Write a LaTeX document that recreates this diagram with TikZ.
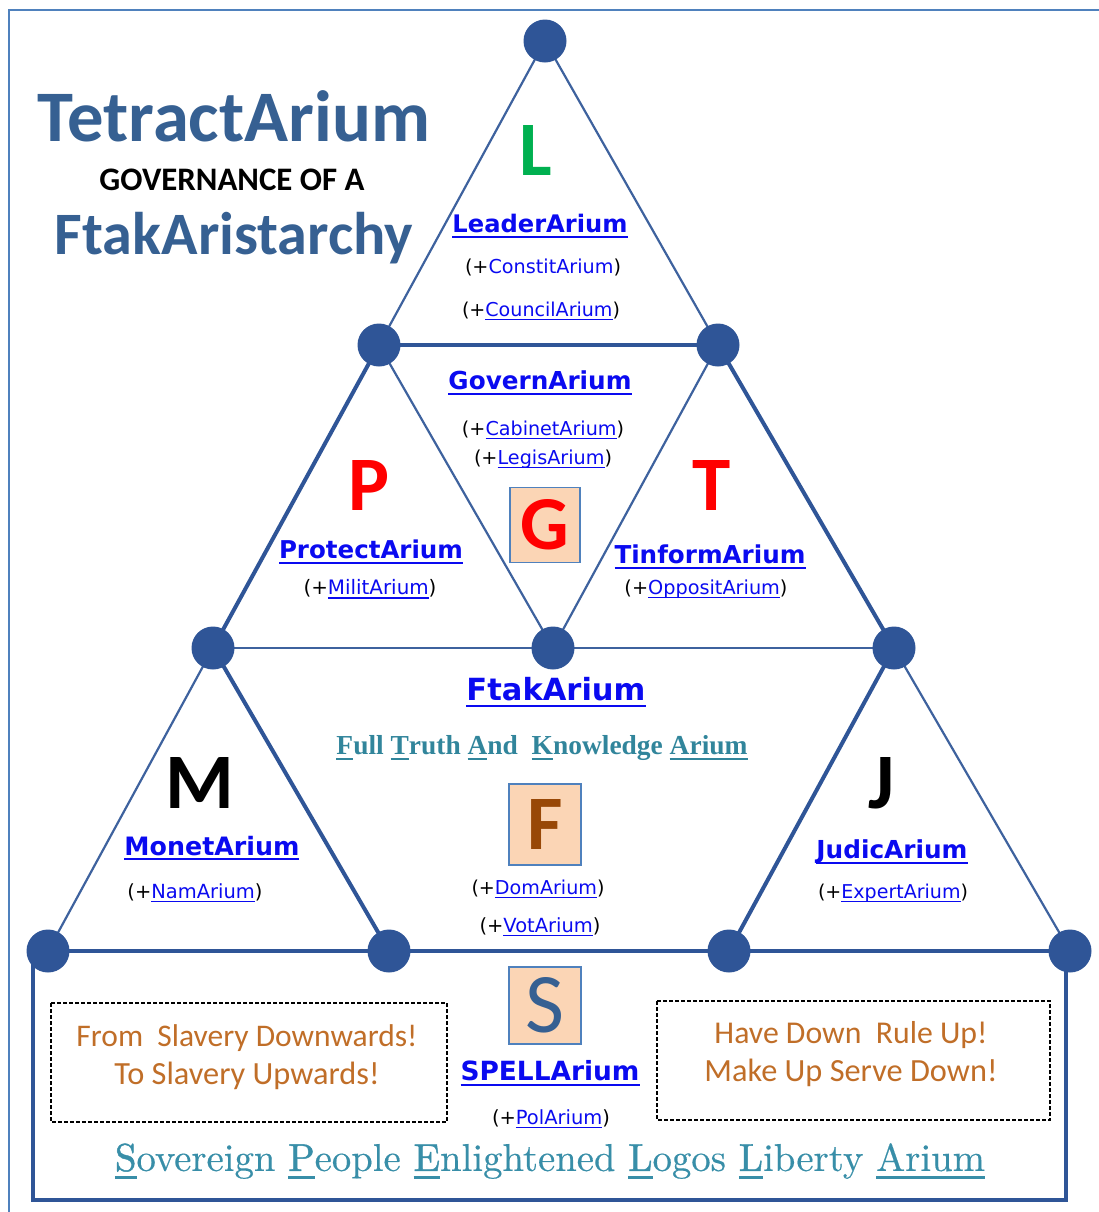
\documentclass[tikz,border=0pt]{standalone}
\usepackage{fontspec}
\newfontfamily\calfnt{Carlito}
\newfontfamily\dvfnt{DejaVu Sans}
\newfontfamily\lserif{Liberation Serif}
\newfontfamily\lmheavy{Latin Modern Roman}[FakeBold=0.35]
\newfontfamily\lmini{Latin Modern Roman}[FakeBold=1.2]
\newlength\pxu \setlength\pxu{0.5pt}
\newcommand\fw[2]{\resizebox{#1\pxu}{!}{#2}}
\newcommand\fh[2]{\resizebox{!}{#1\pxu}{#2}}
\newcommand\myul[1]{\leavevmode\setbox0\hbox{#1}\rlap{\vrule height -0.13em depth 0.2em width \wd0}\box0}
\newcommand\ini[1]{\myul{{\lmini #1}}}
\definecolor{dotblue}{RGB}{47,85,151}
\definecolor{lineblue}{RGB}{62,98,158}
\definecolor{titleblue}{RGB}{54,96,146}
\definecolor{linkblue}{RGB}{10,10,240}
\definecolor{tealc}{RGB}{49,133,155}
\definecolor{tealb}{RGB}{56,142,168}
\definecolor{orangetxt}{RGB}{192,110,40}
\definecolor{peach}{RGB}{251,213,181}
\definecolor{boxblue}{RGB}{79,129,189}
\definecolor{lgreen}{RGB}{0,176,80}
\definecolor{fbrown}{RGB}{152,72,7}
\newcommand\lk[1]{\textcolor{linkblue}{\myul{#1}}}
\newcommand\plus[1]{\textcolor{black}{(+}#1\textcolor{black}{)}}
\tikzset{
  tx/.style={inner sep=0pt, outer sep=0pt},
  dot/.style={circle, fill=dotblue, minimum size=21.5pt, inner sep=0pt},
  thinl/.style={draw=lineblue, line width=1.1pt},
  thickl/.style={draw=dotblue, line width=2pt},
  letterbox/.style={draw=boxblue, fill=peach, line width=0.6pt, inner sep=0pt},
  dashbox/.style={draw=black, line width=0.7pt, dash pattern=on 1.8pt off 1.2pt},
  frame/.style={draw=boxblue, line width=0.9pt},
}
\begin{document}
\begin{tikzpicture}[x=0.5pt, y=-0.5pt]
\useasboundingbox (0,0) rectangle (1099,1212);
\draw[frame] (9,1212) -- (9,10) -- (1099,10);
% vertices
\coordinate (a) at (545,41);
\coordinate (b1) at (379,345);
\coordinate (b2) at (718,345);
\coordinate (c1) at (213,648);
\coordinate (c2) at (553,648);
\coordinate (c3) at (894,648);
\coordinate (d1) at (48,951);
\coordinate (d2) at (389,951);
\coordinate (d3) at (729,951);
\coordinate (d4) at (1070,951);
% bottom box
\draw[thickl] (33,951) rectangle (1066,1200);
% edges
\draw[thinl] (a) -- (b1);
\draw[thinl] (a) -- (b2);
\draw[thickl] (b1) -- (b2);
\draw[thickl] (b1) -- (c1);
\draw[thinl] (b1) -- (c2);
\draw[thinl] (b2) -- (c2);
\draw[thickl] (b2) -- (c3);
\draw[thinl] (c1) -- (c3);
\draw[thinl] (c1) -- (d1);
\draw[thickl] (c1) -- (d2);
\draw[thickl] (c3) -- (d3);
\draw[thinl] (c3) -- (d4);
\draw[thickl] (d1) -- (d4);
% dots
\foreach \p in {a,b1,b2,c1,c2,c3,d1,d2,d3,d4} \node[dot] (v\p) at (\p) {};
% title
\node[tx, text=titleblue] (t1) at (234,116) {\fw{392}{\calfnt\bfseries TetractArium}};
\node[tx, text=black] (t2) at (232,180) {\fw{265}{\calfnt\bfseries GOVERNANCE OF A}};
\node[tx, text=titleblue] (t3) at (234,238) {\fw{358}{\calfnt\bfseries FtakAristarchy}};
% L
\node[tx, text=lgreen] (L) at (536,150) {\fh{50}{\calfnt\bfseries L}};
\node[tx] (leader) at (540,226) {\fw{175}{\dvfnt\bfseries\lk{LeaderArium}}};
\node[tx] (constit) at (543,267) {\fw{156}{\dvfnt\plus{\textcolor{linkblue}{ConstitArium}}}};
\node[tx] (council) at (541,311) {\fw{158}{\dvfnt\plus{\lk{CouncilArium}}}};
% G
\node[tx] (govern) at (540,383) {\fw{183}{\dvfnt\bfseries\lk{GovernArium}}};
\node[tx] (cabinet) at (543,430) {\fw{162}{\dvfnt\plus{\lk{CabinetArium}}}};
\node[tx] (legis) at (543,459) {\fw{138}{\dvfnt\plus{\lk{LegisArium}}}};
\node[letterbox, minimum width=35pt, minimum height=37.5pt] (Gbox) at (545,525) {};
\node[tx, text=red] (G) at (Gbox.center) {\fh{50}{\calfnt\bfseries G}};
% P
\node[tx, text=red] (P) at (369,485) {\fh{50}{\calfnt\bfseries P}};
\node[tx] (protect) at (371,552) {\fw{184}{\dvfnt\bfseries\lk{ProtectArium}}};
\node[tx] (milit) at (370,589) {\fw{133}{\dvfnt\plus{\lk{MilitArium}}}};
% T
\node[tx, text=red] (T) at (712,485) {\fh{50}{\calfnt\bfseries T}};
\node[tx] (tinform) at (710,557) {\fw{191}{\dvfnt\bfseries\lk{TinformArium}}};
\node[tx] (opposit) at (706,589) {\fw{163}{\dvfnt\plus{\lk{OppositArium}}}};
% F
\node[tx] (ftak) at (556,692) {\fw{179}{\dvfnt\bfseries\lk{FtakArium}}};
\node[tx, text=tealc] (full) at (542,748) {\fw{411}{\lserif\bfseries \myul{F}ull \myul{T}ruth \myul{A}nd\ \ \myul{K}nowledge \myul{Arium}}};
\node[letterbox, minimum width=36pt, minimum height=40.5pt] (Fbox) at (545,824.5) {};
\node[tx, text=fbrown] (F) at (Fbox.center) {\fh{50}{\calfnt\bfseries F}};
\node[tx] (dom) at (538,889) {\fw{133}{\dvfnt\plus{\lk{DomArium}}}};
\node[tx] (vot) at (540,927) {\fw{121}{\dvfnt\plus{\lk{VotArium}}}};
% M
\node[tx, text=black] (M) at (200,783) {\fh{51}{\calfnt\bfseries M}};
\node[tx] (monet) at (212,848) {\fw{175}{\dvfnt\bfseries\lk{MonetArium}}};
\node[tx] (nam) at (195,893) {\fw{135}{\dvfnt\plus{\lk{NamArium}}}};
% J
\node[tx, text=black] (J) at (882,783) {\fh{51}{\calfnt\bfseries J}};
\node[tx] (judic) at (892,852) {\fw{151}{\dvfnt\bfseries\lk{JudicArium}}};
\node[tx] (expert) at (893,893) {\fw{150}{\dvfnt\plus{\lk{ExpertArium}}}};
% S
\node[letterbox, minimum width=36pt, minimum height=38.5pt] (Sbox) at (545,1005.5) {};
\node[tx, text=titleblue] (S) at (Sbox.center) {\fh{55}{\calfnt S}};
\node[tx] (spell) at (550,1073) {\fw{179}{\dvfnt\bfseries\lk{SPELLArium}}};
\node[tx] (pol) at (551,1119) {\fw{118}{\dvfnt\plus{\lk{PolArium}}}};
% dashed boxes
\draw[dashbox] (51,1003) rectangle (447,1122);
\draw[dashbox] (657,1001) rectangle (1050,1120);
\node[tx, text=orangetxt] (l1) at (247,1038) {\fw{341}{\calfnt From\ \ Slavery Downwards!}};
\node[tx, text=orangetxt] (l2) at (247,1076) {\fw{265}{\calfnt To Slavery Upwards!}};
\node[tx, text=orangetxt] (r1) at (851,1035) {\fw{273}{\calfnt Have Down\ \ Rule Up!}};
\node[tx, text=orangetxt] (r2) at (851,1073) {\fw{293}{\calfnt Make Up Serve Down!}};
% bottom line
\node[tx, text=tealb] (sov) at (550,1161) {\fw{870}{\lmheavy \ini{S}overeign \ini{P}eople \ini{E}nlightened \ini{L}ogos \ini{L}iberty \myul{Arium}}};
\end{tikzpicture}
\end{document}
